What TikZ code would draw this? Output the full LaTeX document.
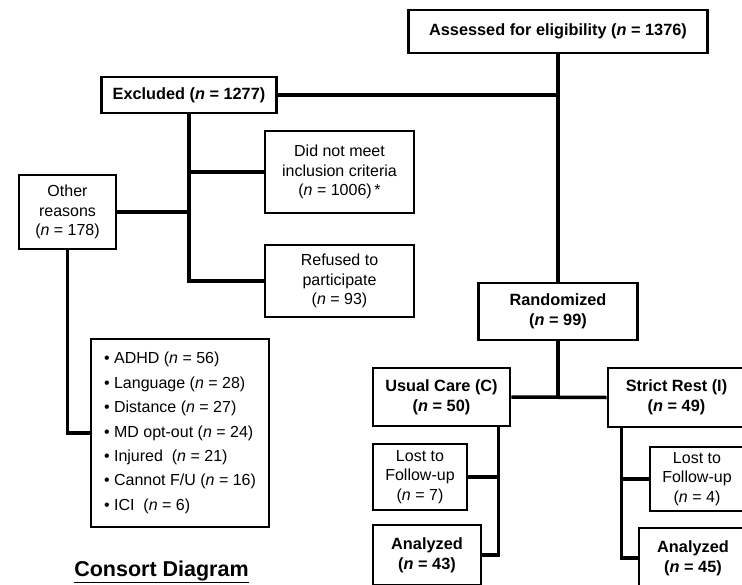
\documentclass[tikz,border=0pt]{standalone}
\usepackage{fontspec}
\setmainfont{Liberation Sans}
\usetikzlibrary{positioning}

\begin{document}
\begin{tikzpicture}[
  x=1pt, y=-1pt,
  bigbox/.style={draw, line width=2.6pt, inner sep=0pt, align=center, font=\bfseries\fontsize{16.3}{20}\selectfont},
  smallbox/.style={draw, line width=1.8pt, inner sep=0pt, align=center, font=\fontsize{16}{19.5}\selectfont},
  link/.style={line width=3.5pt},
  title/.style={font=\bfseries\fontsize{21.5}{24}\selectfont}
  ]
  \path[use as bounding box, clip] (0,0) rectangle (742,584);

  % Enrollment
  \node[bigbox, minimum width=299, minimum height=43] (assess) at (558,31.5) {Assessed for eligibility (\textit{n} = 1376)};
  \node[bigbox, minimum width=175, minimum height=36] (excl) at (189,95) {Excluded (\textit{n} = 1277)};
  \node[smallbox, minimum width=149, minimum height=82] (didnot) at (339.5,172) {Did not meet\\inclusion criteria\\(\textit{n} = 1006)\,*};
  \node[smallbox, minimum width=149, minimum height=72] (refused) at (339.5,281) {Refused to\\participate\\(\textit{n} = 93)};
  \node[smallbox, minimum width=97, minimum height=74] (other) at (67.5,212) {Other\\reasons\\(\textit{n} = 178)};
  \node[smallbox, align=left, minimum width=178, minimum height=188, font=\fontsize{16}{24.4}\selectfont] (reasons) at (180,433)
    {\textbullet\ ADHD (\textit{n} = 56)\\
     \textbullet\ Language (\textit{n} = 28)\\
     \textbullet\ Distance (\textit{n} = 27)\\
     \textbullet\ MD opt-out (\textit{n} = 24)\\
     \textbullet\ Injured\ \ (\textit{n} = 21)\\
     \textbullet\ Cannot F/U (\textit{n} = 16)\\
     \textbullet\ ICI\ \ (\textit{n} = 6)};

  % Allocation
  \node[bigbox, minimum width=159, minimum height=57] (random) at (558,311.5) {Randomized\\(\textit{n} = 99)};
  \node[bigbox, minimum width=137, minimum height=58] (usual) at (441.5,397) {Usual Care (C)\\(\textit{n} = 50)};
  \node[bigbox, minimum width=137, minimum height=59] (strict) at (676.5,397.5) {Strict Rest (I)\\(\textit{n} = 49)};

  % Follow-up and analysis
  \node[smallbox, minimum width=94, minimum height=66] (lostc) at (420,477) {Lost to\\Follow-up\\(\textit{n} = 7)};
  \node[smallbox, minimum width=94, minimum height=64] (losti) at (697,479) {Lost to\\Follow-up\\(\textit{n} = 4)};
  \node[bigbox, minimum width=108, minimum height=60] (analyzedc) at (427,555) {Analyzed\\(\textit{n} = 43)};
  \node[bigbox, minimum width=108, minimum height=60] (analyzedi) at (693,558) {Analyzed\\(\textit{n} = 45)};

  \node[title] (caption) at (161.5,572) {\underline{Consort Diagram}};

  % Connectors
  \draw[link] (assess.south) -- (random.north);
  \draw[link] (excl.east) -- (excl.east -| assess.south);
  \draw[link] (excl.south) |- (refused.west);
  \draw[link] (excl.south |- didnot.west) -- (didnot.west);
  \draw[link] (other.east) -- (other.east -| excl.south);
  \draw[link] (other.south) |- (reasons.west);
  \draw[link] (random.south) -- (random.south |- usual.east);
  \draw[link] (usual.east) -- (strict.west);
  \coordinate (ctrunk) at ([xshift=-13]usual.south east);
  \draw[link] (ctrunk) |- (analyzedc.east);
  \draw[link] (ctrunk |- lostc.east) -- (lostc.east);
  \coordinate (itrunk) at ([xshift=15]strict.south west);
  \draw[link] (itrunk) |- (analyzedi.west);
  \draw[link] (itrunk |- losti.west) -- (losti.west);

\end{tikzpicture}
\end{document}
